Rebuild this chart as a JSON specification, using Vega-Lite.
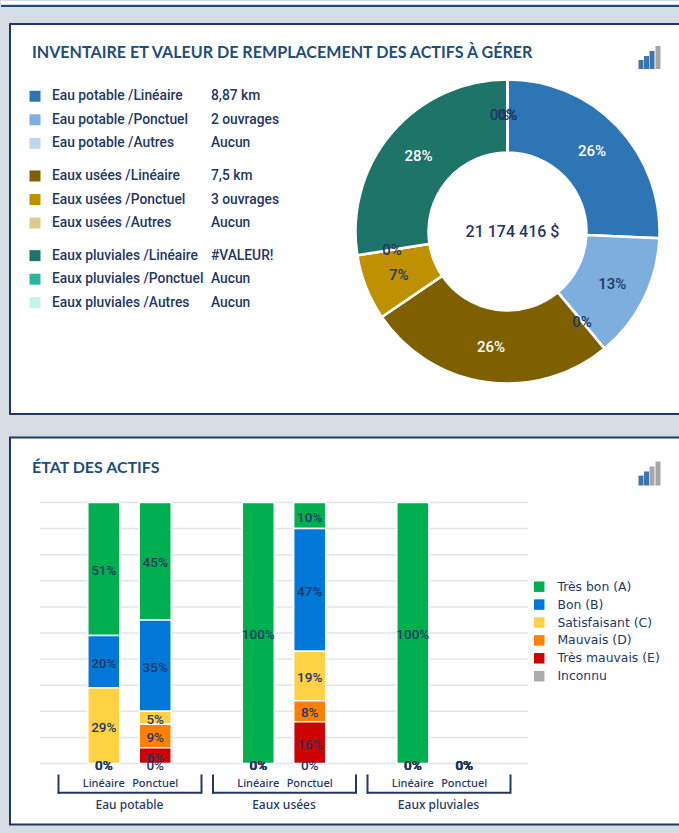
{
"$schema":"https://vega.github.io/schema/vega-lite/v6.json",
"background":"#D5DCE4",
"padding":{"left":0,"top":0,"right":0,"bottom":7},
"config":{"view":{"fill":"white","stroke":"#1F3864","strokeWidth":2},"text":{"font":"Roboto"}},
"resolve":{"scale":{"color":"independent"}},
"datasets":{
"inventaire":[
{"nom":"Eau potable /Linéaire","groupe":"Eau potable","type":"Linéaire","quantite":"8,87 km","part":25.7,"etiquette":"26%","ordre":1},
{"nom":"Eau potable /Ponctuel","groupe":"Eau potable","type":"Ponctuel","quantite":"2 ouvrages","part":13.3,"etiquette":"13%","ordre":2},
{"nom":"Eau potable /Autres","groupe":"Eau potable","type":"Autres","quantite":"Aucun","part":0,"etiquette":"0%","ordre":3},
{"nom":"Eaux usées /Linéaire","groupe":"Eaux usées","type":"Linéaire","quantite":"7,5 km","part":26.5,"etiquette":"26%","ordre":4},
{"nom":"Eaux usées /Ponctuel","groupe":"Eaux usées","type":"Ponctuel","quantite":"3 ouvrages","part":7,"etiquette":"7%","ordre":5},
{"nom":"Eaux usées /Autres","groupe":"Eaux usées","type":"Autres","quantite":"Aucun","part":0,"etiquette":"0%","ordre":6},
{"nom":"Eaux pluviales /Linéaire","groupe":"Eaux pluviales","type":"Linéaire","quantite":"#VALEUR!","part":27.5,"etiquette":"28%","ordre":7},
{"nom":"Eaux pluviales /Ponctuel","groupe":"Eaux pluviales","type":"Ponctuel","quantite":"Aucun","part":0,"etiquette":"0%","ordre":8},
{"nom":"Eaux pluviales /Autres","groupe":"Eaux pluviales","type":"Autres","quantite":"Aucun","part":0,"etiquette":"0%","ordre":9}
],
"etat":[
{"groupe":"Eau potable","type":"Linéaire","etat":"Très bon (A)","ordre":1,"valeur":51,"etiquette":"51%"},
{"groupe":"Eau potable","type":"Linéaire","etat":"Bon (B)","ordre":2,"valeur":20,"etiquette":"20%"},
{"groupe":"Eau potable","type":"Linéaire","etat":"Satisfaisant (C)","ordre":3,"valeur":29,"etiquette":"29%"},
{"groupe":"Eau potable","type":"Linéaire","etat":"Mauvais (D)","ordre":4,"valeur":0,"etiquette":"0%"},
{"groupe":"Eau potable","type":"Linéaire","etat":"Très mauvais (E)","ordre":5,"valeur":0,"etiquette":"0%"},
{"groupe":"Eau potable","type":"Linéaire","etat":"Inconnu","ordre":6,"valeur":0,"etiquette":"0%"},
{"groupe":"Eau potable","type":"Ponctuel","etat":"Très bon (A)","ordre":1,"valeur":45,"etiquette":"45%"},
{"groupe":"Eau potable","type":"Ponctuel","etat":"Bon (B)","ordre":2,"valeur":35,"etiquette":"35%"},
{"groupe":"Eau potable","type":"Ponctuel","etat":"Satisfaisant (C)","ordre":3,"valeur":5,"etiquette":"5%"},
{"groupe":"Eau potable","type":"Ponctuel","etat":"Mauvais (D)","ordre":4,"valeur":9,"etiquette":"9%"},
{"groupe":"Eau potable","type":"Ponctuel","etat":"Très mauvais (E)","ordre":5,"valeur":6,"etiquette":"6%"},
{"groupe":"Eau potable","type":"Ponctuel","etat":"Inconnu","ordre":6,"valeur":0,"etiquette":"0%"},
{"groupe":"Eaux usées","type":"Linéaire","etat":"Très bon (A)","ordre":1,"valeur":100,"etiquette":"100%"},
{"groupe":"Eaux usées","type":"Linéaire","etat":"Bon (B)","ordre":2,"valeur":0,"etiquette":"0%"},
{"groupe":"Eaux usées","type":"Linéaire","etat":"Satisfaisant (C)","ordre":3,"valeur":0,"etiquette":"0%"},
{"groupe":"Eaux usées","type":"Linéaire","etat":"Mauvais (D)","ordre":4,"valeur":0,"etiquette":"0%"},
{"groupe":"Eaux usées","type":"Linéaire","etat":"Très mauvais (E)","ordre":5,"valeur":0,"etiquette":"0%"},
{"groupe":"Eaux usées","type":"Linéaire","etat":"Inconnu","ordre":6,"valeur":0,"etiquette":"0%"},
{"groupe":"Eaux usées","type":"Ponctuel","etat":"Très bon (A)","ordre":1,"valeur":10,"etiquette":"10%"},
{"groupe":"Eaux usées","type":"Ponctuel","etat":"Bon (B)","ordre":2,"valeur":47,"etiquette":"47%"},
{"groupe":"Eaux usées","type":"Ponctuel","etat":"Satisfaisant (C)","ordre":3,"valeur":19,"etiquette":"19%"},
{"groupe":"Eaux usées","type":"Ponctuel","etat":"Mauvais (D)","ordre":4,"valeur":8,"etiquette":"8%"},
{"groupe":"Eaux usées","type":"Ponctuel","etat":"Très mauvais (E)","ordre":5,"valeur":16,"etiquette":"16%"},
{"groupe":"Eaux usées","type":"Ponctuel","etat":"Inconnu","ordre":6,"valeur":0,"etiquette":"0%"},
{"groupe":"Eaux pluviales","type":"Linéaire","etat":"Très bon (A)","ordre":1,"valeur":100,"etiquette":"100%"},
{"groupe":"Eaux pluviales","type":"Linéaire","etat":"Bon (B)","ordre":2,"valeur":0,"etiquette":"0%"},
{"groupe":"Eaux pluviales","type":"Linéaire","etat":"Satisfaisant (C)","ordre":3,"valeur":0,"etiquette":"0%"},
{"groupe":"Eaux pluviales","type":"Linéaire","etat":"Mauvais (D)","ordre":4,"valeur":0,"etiquette":"0%"},
{"groupe":"Eaux pluviales","type":"Linéaire","etat":"Très mauvais (E)","ordre":5,"valeur":0,"etiquette":"0%"},
{"groupe":"Eaux pluviales","type":"Linéaire","etat":"Inconnu","ordre":6,"valeur":0,"etiquette":"0%"},
{"groupe":"Eaux pluviales","type":"Ponctuel","etat":"Très bon (A)","ordre":1,"valeur":0,"etiquette":"0%"},
{"groupe":"Eaux pluviales","type":"Ponctuel","etat":"Bon (B)","ordre":2,"valeur":0,"etiquette":"0%"},
{"groupe":"Eaux pluviales","type":"Ponctuel","etat":"Satisfaisant (C)","ordre":3,"valeur":0,"etiquette":"0%"},
{"groupe":"Eaux pluviales","type":"Ponctuel","etat":"Mauvais (D)","ordre":4,"valeur":0,"etiquette":"0%"},
{"groupe":"Eaux pluviales","type":"Ponctuel","etat":"Très mauvais (E)","ordre":5,"valeur":0,"etiquette":"0%"},
{"groupe":"Eaux pluviales","type":"Ponctuel","etat":"Inconnu","ordre":6,"valeur":0,"etiquette":"0%"}
],
"grille":[{"niveau":0},{"niveau":10},{"niveau":20},{"niveau":30},{"niveau":40},{"niveau":50},{"niveau":60},{"niveau":70},{"niveau":80},{"niveau":90},{"niveau":100}],
"groupes":[{"groupe":"Eau potable"},{"groupe":"Eaux usées"},{"groupe":"Eaux pluviales"}],
"types":[{"groupe":"Eau potable","type":"Linéaire"},{"groupe":"Eau potable","type":"Ponctuel"},{"groupe":"Eaux usées","type":"Linéaire"},{"groupe":"Eaux usées","type":"Ponctuel"},{"groupe":"Eaux pluviales","type":"Linéaire"},{"groupe":"Eaux pluviales","type":"Ponctuel"}],
"titres":[{"haut":"INVENTAIRE ET VALEUR DE REMPLACEMENT DES ACTIFS À GÉRER","bas":"ÉTAT DES ACTIFS","total":"21 174 416 $"}]
},
"spacing":21.5,
"vconcat":[
{"spacing":16,"resolve":{"scale":{"color":"independent"}},"vconcat":[
 {"spacing":0,"vconcat":[
  {"width":679,"height":3,"view":{"fill":"white","stroke":null},"data":{"name":"titres"},"mark":{"type":"rule","opacity":0},"encoding":{}},
  {"width":679,"height":2,"view":{"fill":"#1F4E79","stroke":null},"data":{"name":"titres"},"mark":{"type":"rule","opacity":0},"encoding":{}}
 ]},
 {"spacing":0,"hconcat":[
 {"width":8,"height":390,"view":{"fill":"#D5DCE4","stroke":null},"data":{"name":"titres"},"mark":{"type":"rule","opacity":0},"encoding":{}},
 {"width":671,"height":390,
  "resolve":{"scale":{"y":"independent"}},
  "layer":[
  {"layer":[
    {"data":{"name":"titres"},"mark":{"type":"text","font":"Lato","fontWeight":"bold","fontSize":16.1,"align":"left","baseline":"middle","color":"#1F4E79"},
     "encoding":{"text":{"field":"haut"},
      "x":{"datum":22,"type":"quantitative","scale":{"domain":[0,671],"range":[0,671],"nice":false,"zero":false},"axis":null},
      "y":{"datum":29,"type":"quantitative","scale":{"domain":[0,390],"range":[0,390],"nice":false,"zero":false},"axis":null}}},
    {"data":{"name":"inventaire"},"mark":{"type":"arc","outerRadius":152,"innerRadius":79,"stroke":"white","strokeWidth":2.5},
     "encoding":{"theta":{"field":"part","type":"quantitative","stack":"zero","scale":{"domain":[0,100]}},
      "order":{"field":"ordre","type":"quantitative"},
      "x":{"datum":497.5,"type":"quantitative"},"y":{"datum":207.5,"type":"quantitative"},
      "color":{"field":"nom","type":"nominal","legend":null,"scale":{
       "domain":["Eau potable /Linéaire","Eau potable /Ponctuel","Eau potable /Autres","Eaux usées /Linéaire","Eaux usées /Ponctuel","Eaux usées /Autres","Eaux pluviales /Linéaire","Eaux pluviales /Ponctuel","Eaux pluviales /Autres"],
       "range":["#2E75B6","#7DAFDE","#BDD7EE","#7F6000","#BF9000","#DFC98B","#1E7468","#2BB5A0","#C5F2EA"]}}}},
    {"data":{"name":"inventaire"},"mark":{"type":"text","radius":117,"fontSize":15,"fontWeight":500},
     "encoding":{"theta":{"field":"part","type":"quantitative","stack":"zero","scale":{"domain":[0,100]}},
      "order":{"field":"ordre","type":"quantitative"},
      "x":{"datum":497.5,"type":"quantitative"},"y":{"datum":207.5,"type":"quantitative"},
      "text":{"field":"etiquette"},
      "color":{"condition":{"test":"datum.etiquette==='26%'||datum.etiquette==='28%'","value":"white"},"value":"#1F3864"}}},
    {"data":{"name":"inventaire"},"transform":[{"filter":"datum.ordre===9"}],"mark":{"type":"text","radius":117,"fontSize":15,"fontWeight":500,"dx":-8,"color":"#1F3864"},
     "encoding":{"theta":{"datum":100,"type":"quantitative"},
      "x":{"datum":497.5,"type":"quantitative"},"y":{"datum":207.5,"type":"quantitative"},
      "text":{"field":"etiquette"}}},
    {"data":{"name":"titres"},"mark":{"type":"text","fontSize":16,"fontWeight":500,"color":"#1F3864","baseline":"middle"},
     "encoding":{"text":{"field":"total"},"x":{"datum":502.5,"type":"quantitative"},"y":{"datum":207.5,"type":"quantitative"}}},
    {"data":{"name":"titres"},"mark":{"type":"rule","strokeWidth":5,"color":"#3E75B0"},"encoding":{"x":{"datum":631,"type":"quantitative"},"y":{"datum":45,"type":"quantitative"},"y2":{"datum":36}}},
    {"data":{"name":"titres"},"mark":{"type":"rule","strokeWidth":5,"color":"#3E75B0"},"encoding":{"x":{"datum":636.5,"type":"quantitative"},"y":{"datum":45,"type":"quantitative"},"y2":{"datum":32}}},
    {"data":{"name":"titres"},"mark":{"type":"rule","strokeWidth":5,"color":"#3E75B0"},"encoding":{"x":{"datum":642,"type":"quantitative"},"y":{"datum":45,"type":"quantitative"},"y2":{"datum":27}}},
    {"data":{"name":"titres"},"mark":{"type":"rule","strokeWidth":5,"color":"#A6A6A6"},"encoding":{"x":{"datum":648,"type":"quantitative"},"y":{"datum":45,"type":"quantitative"},"y2":{"datum":22}}}
  ]},
  {"data":{"name":"inventaire"},"encoding":{
    "y":{"field":"groupe","type":"nominal","sort":null,"axis":null,"scale":{"domain":["Eau potable","Eaux usées","Eaux pluviales"],"range":[60.5,290.5],"paddingInner":0.114,"paddingOuter":0}},
    "yOffset":{"field":"type","type":"nominal","scale":{"domain":["Linéaire","Ponctuel","Autres"]}}},
   "layer":[
    {"mark":{"type":"square","size":121,"opacity":1},"encoding":{"x":{"datum":25,"type":"quantitative"},"color":{"field":"nom","type":"nominal","legend":null}}},
    {"mark":{"type":"text","align":"left","baseline":"middle","fontSize":13.8,"fontWeight":500,"color":"#1F3864"},"encoding":{"x":{"datum":42,"type":"quantitative"},"text":{"field":"nom"}}},
    {"mark":{"type":"text","align":"left","baseline":"middle","fontSize":13.8,"fontWeight":500,"color":"#1F3864"},"encoding":{"x":{"datum":201,"type":"quantitative"},"text":{"field":"quantite"}}}
   ]}
  ]}
 ]}
]},
{"spacing":0,"resolve":{"scale":{"color":"independent"}},"hconcat":[
 {"width":8,"height":387,"view":{"fill":"#D5DCE4","stroke":null},"data":{"name":"titres"},"mark":{"type":"rule","opacity":0},"encoding":{}},
 {"width":671,"height":387,
  "resolve":{"scale":{"x":"independent"}},
  "layer":[
   {"layer":[
    {"data":{"name":"grille"},"mark":{"type":"rule","color":"#E0E4EB","strokeWidth":1.5},
     "encoding":{"x":{"datum":30,"type":"quantitative","axis":null,"scale":{"domain":[0,671],"range":[0,671],"nice":false,"zero":false}},"x2":{"datum":518},
      "y":{"field":"niveau","type":"quantitative","axis":null,"scale":{"domain":[0,100],"range":[326,65],"nice":false,"zero":false}}}},
    {"data":{"name":"titres"},"mark":{"type":"text","font":"Lato","fontWeight":"bold","fontSize":16,"align":"left","baseline":"middle","color":"#1F4E79"},
     "encoding":{"text":{"field":"bas"},"x":{"datum":22,"type":"quantitative"},"y":{"datum":113.2,"type":"quantitative"}}},
    {"data":{"name":"titres"},"mark":{"type":"rule","strokeWidth":5,"color":"#3E75B0"},"encoding":{"x":{"datum":631,"type":"quantitative"},"y":{"datum":106.5,"type":"quantitative"},"y2":{"datum":110.3}}},
    {"data":{"name":"titres"},"mark":{"type":"rule","strokeWidth":5,"color":"#3E75B0"},"encoding":{"x":{"datum":636.5,"type":"quantitative"},"y":{"datum":106.5,"type":"quantitative"},"y2":{"datum":111.9}}},
    {"data":{"name":"titres"},"mark":{"type":"rule","strokeWidth":5,"color":"#A6A6A6"},"encoding":{"x":{"datum":642,"type":"quantitative"},"y":{"datum":106.5,"type":"quantitative"},"y2":{"datum":113.8}}},
    {"data":{"name":"titres"},"mark":{"type":"rule","strokeWidth":5,"color":"#A6A6A6"},"encoding":{"x":{"datum":648,"type":"quantitative"},"y":{"datum":106.5,"type":"quantitative"},"y2":{"datum":115.7}}}
   ]},
   {"encoding":{"x":{"field":"groupe","type":"nominal","sort":null,
      "scale":{"domain":["Eau potable","Eaux usées","Eaux pluviales"],"range":[30,518],"paddingInner":0.3346,"paddingOuter":0.2466},
      "axis":{"title":null,"orient":"bottom","offset":-25,"domain":false,"ticks":false,"labelAngle":0,"labelPadding":0,"labelFont":"Noto Sans","labelFontSize":12,"labelColor":"#1F3864","labelFontWeight":500}}},
    "layer":[
    {"data":{"name":"etat"},"transform":[{"filter":"datum.valeur>0"}],"mark":{"type":"bar","stroke":"white","strokeWidth":1.5},
     "encoding":{"xOffset":{"field":"type","type":"nominal","scale":{"domain":["Linéaire","Ponctuel"],"paddingInner":0.377,"paddingOuter":0.1885}},
      "y":{"field":"valeur","type":"quantitative","stack":"zero"},
      "order":{"field":"ordre","type":"quantitative","sort":"descending"},
      "color":{"field":"etat","type":"nominal","scale":{"domain":["Très bon (A)","Bon (B)","Satisfaisant (C)","Mauvais (D)","Très mauvais (E)","Inconnu"],"range":["#00B050","#0078D7","#FFD246","#FF8000","#CF0000","#AEAAAA"]},
       "legend":{"title":null,"orient":"none","legendX":523,"legendY":143,"symbolType":"square","symbolSize":110,"symbolStrokeWidth":0,"labelFont":"DejaVu Sans","labelFontSize":12.4,"labelColor":"#1F3864","labelFontWeight":400,"rowPadding":4.9,"labelOffset":12}}}},
    {"data":{"name":"etat"},"mark":{"type":"text","fontSize":13.5,"fontWeight":500,"color":"#1F3864","dy":2},
     "encoding":{"xOffset":{"field":"type","type":"nominal"},
      "y":{"field":"valeur","type":"quantitative","stack":"zero","bandPosition":0.5},
      "order":{"field":"ordre","type":"quantitative","sort":"descending"},
      "text":{"field":"etiquette"},
      "detail":{"field":"etat"}}},
    {"data":{"name":"types"},"mark":{"type":"text","fontSize":11,"fontWeight":500,"font":"Noto Sans","color":"#1F3864"},
     "encoding":{"xOffset":{"field":"type","type":"nominal"},"y":{"datum":-7.7,"type":"quantitative"},"text":{"field":"type"}}},
    {"data":{"name":"groupes"},"mark":{"type":"bar","color":"#1F3864","width":{"band":1.396}},
     "encoding":{"y":{"datum":-10.8,"type":"quantitative"},"y2":{"datum":-11.6}}},
    {"data":{"name":"groupes"},"mark":{"type":"rule","color":"#1F3864","strokeWidth":2,"xOffset":-71},
     "encoding":{"y":{"datum":-4.2,"type":"quantitative"},"y2":{"datum":-11.6}}},
    {"data":{"name":"groupes"},"mark":{"type":"rule","color":"#1F3864","strokeWidth":2,"xOffset":72},
     "encoding":{"y":{"datum":-4.2,"type":"quantitative"},"y2":{"datum":-11.6}}}
   ]}
  ]}
]}
]
}
